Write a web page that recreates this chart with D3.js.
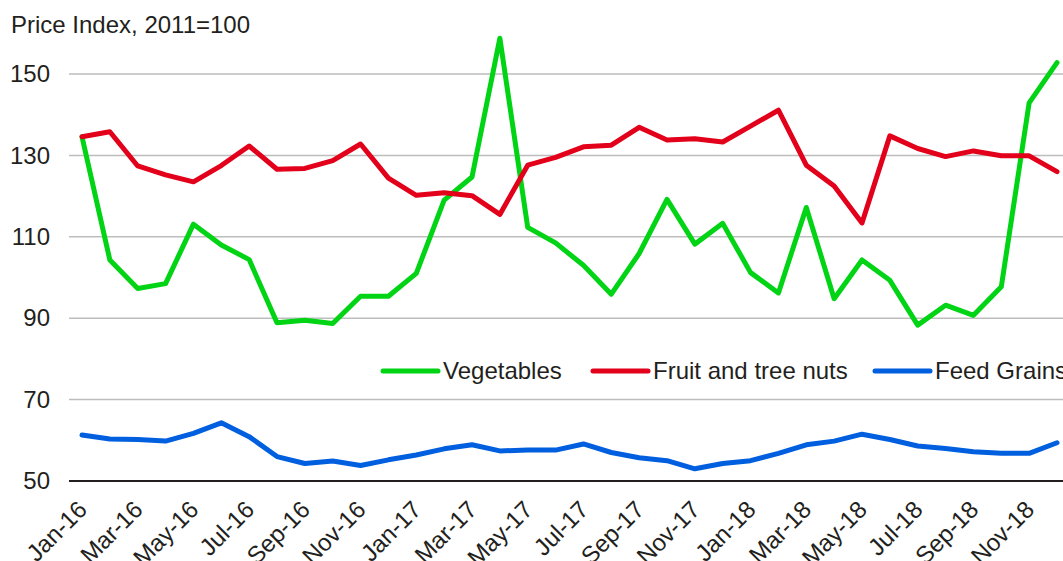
<!DOCTYPE html>
<html>
<head>
<meta charset="utf-8">
<script src="https://cdn.jsdelivr.net/npm/d3@7"></script>
<style>
  body { margin: 0; background: #fff; }
  svg { display: block; overflow: hidden; }
  text { font-family: "Liberation Sans", Arial, Helvetica, sans-serif; fill: #231f20; }
</style>
</head>
<body>
<svg width="1063" height="561"></svg>
<script>
// meses (Jan-16 .. Dec-18)
var meses = ['Jan-16','Feb-16','Mar-16','Apr-16','May-16','Jun-16','Jul-16','Aug-16','Sep-16','Oct-16','Nov-16','Dec-16',
             'Jan-17','Feb-17','Mar-17','Apr-17','May-17','Jun-17','Jul-17','Aug-17','Sep-17','Oct-17','Nov-17','Dec-17',
             'Jan-18','Feb-18','Mar-18','Apr-18','May-18','Jun-18','Jul-18','Aug-18','Sep-18','Oct-18','Nov-18','Dec-18'];

var vegetables = [134.6,104.3,97.3,98.5,113.1,108.0,104.4,88.9,89.5,88.7,95.4,95.4,
                  101.0,119.0,124.7,158.8,112.3,108.5,103.0,95.9,105.9,119.2,108.2,113.3,
                  101.2,96.2,117.2,94.8,104.3,99.3,88.3,93.2,90.7,97.7,142.9,152.8];

var fruitNuts = [134.6,135.8,127.4,125.2,123.5,127.5,132.3,126.6,126.8,128.7,132.8,124.4,
                 120.2,120.8,120.1,115.5,127.6,129.5,132.1,132.5,136.9,133.8,134.1,133.3,
                 137.2,141.1,127.6,122.5,113.4,134.8,131.7,129.7,131.1,129.9,129.9,126.0];

var feedGrains = [61.3,60.3,60.2,59.8,61.7,64.3,60.9,56.0,54.3,54.9,53.8,55.2,
                  56.4,57.9,58.9,57.4,57.6,57.6,59.1,57.0,55.7,55.0,53.0,54.3,
                  55.0,56.8,58.9,59.8,61.5,60.2,58.6,58.0,57.2,56.8,56.8,59.4];

var yTicks = [50, 70, 90, 110, 130, 150];
var xLabels = meses.filter(function(m, i) { return i % 2 == 0; });

var series = [
  { nome: 'Vegetables', valores: vegetables, cor: '#00d414' },
  { nome: 'Fruit and tree nuts', valores: fruitNuts, cor: '#e2001a' },
  { nome: 'Feed Grains', valores: feedGrains, cor: '#005fdf' }
];

var svg = d3.select('svg');

var x = d3.scalePoint().domain(meses).range([82, 1057]);
var y = d3.scaleLinear().domain([50, 150]).range([481, 74]);

// titulo do eixo
svg.append('text').attr('x', 11).attr('y', 33).style('font-size', '24px').text('Price Index, 2011=100');

// linhas de grade
svg.append('g').selectAll('line').data(yTicks).join('line')
  .attr('x1', 69).attr('x2', 1063)
  .attr('y1', d => y(d)).attr('y2', d => y(d))
  .attr('stroke', d => d == 50 ? '#231f20' : '#bdbdbd')
  .attr('stroke-width', d => d == 50 ? 2 : 1.5);

// eixo y
var eixoY = svg.append('g').attr('transform', 'translate(50,0)')
  .call(d3.axisLeft(y).tickValues(yTicks).tickSize(0).tickPadding(0));
eixoY.select('.domain').remove();
eixoY.selectAll('text').style('font-size', '24px').attr('fill', '#231f20').attr('font-family', null);

// eixo x
var eixoX = svg.append('g').attr('transform', 'translate(0,481)')
  .call(d3.axisBottom(x).tickValues(xLabels).tickSize(0));
eixoX.select('.domain').remove();
eixoX.selectAll('text')
  .style('font-size', '24px').attr('fill', '#231f20').attr('font-family', null)
  .attr('text-anchor', 'end').attr('y', 0).attr('dy', 0)
  .attr('transform', 'translate(6,30) rotate(-45)');

// linhas
var linha = d3.line().x((d, i) => x(meses[i])).y(d => y(d));
series.forEach(function(s) {
  svg.append('path').datum(s.valores)
    .attr('d', linha)
    .attr('fill', 'none')
    .attr('stroke', s.cor)
    .attr('stroke-width', 5)
    .attr('stroke-linejoin', 'round')
    .attr('stroke-linecap', 'round');
});

// legenda
var legendaX = [383, 593, 875];
series.forEach(function(s, i) {
  svg.append('line').attr('x1', legendaX[i]).attr('x2', legendaX[i] + 55)
    .attr('y1', 371).attr('y2', 371)
    .attr('stroke', s.cor).attr('stroke-width', 5).attr('stroke-linecap', 'round');
  svg.append('text').attr('x', legendaX[i] + 60).attr('y', 379)
    .style('font-size', '24px').text(s.nome);
});
</script>
</body>
</html>
